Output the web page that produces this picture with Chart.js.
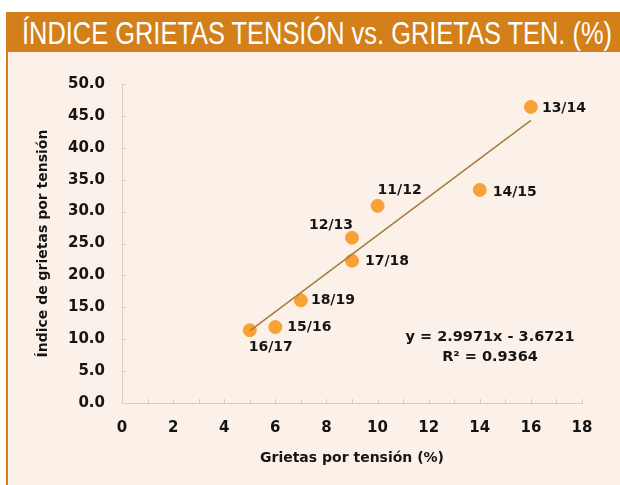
<!DOCTYPE html>
<html>
<head>
<meta charset="utf-8">
<script src="https://cdn.jsdelivr.net/npm/chart.js@4"></script>
<style>
  html, body { margin: 0; padding: 0; background: #fff; }
  #wrap { position: relative; width: 620px; height: 485px; overflow: hidden; background: #fff; }
  #titlebar {
    position: absolute; left: 6px; top: 12px; width: 614px; height: 40px;
    background: #d3801b; overflow: hidden;
  }
  #titletext {
    position: absolute; left: 16px; top: 0; color: #fff;
    font-family: "Liberation Sans", Arial, sans-serif;
    font-size: 32px; line-height: 42px; white-space: nowrap; transform-origin: 0 0;
  }
  #panel {
    position: absolute; left: 6px; top: 52px; width: 614px; height: 433px;
    background: #fbf1e8; border-left: 2px solid #d3801b; box-sizing: border-box;
  }
  #graph_chart { position: absolute; left: 8px; top: 52px; }
</style>
</head>
<body>
<div id="wrap">
  <div id="titlebar"><span id="titletext">ÍNDICE GRIETAS TENSIÓN vs. GRIETAS TEN. (%)</span></div>
  <div id="panel"></div>
  <canvas id="graph_chart" width="612" height="433"></canvas>
</div>
<script>
// temporadas y valores
const seasons = ['11/12', '12/13', '13/14', '14/15', '15/16', '16/17', '17/18', '18/19'];
const grietasPct = [10, 9, 16, 14, 6, 5, 9, 7];
const indice = [30.9, 25.9, 46.4, 33.4, 11.9, 11.4, 22.3, 16.1];

// recta de regresion lineal
const slope = 2.9971;
const intercept = -3.6721;
const eqLines = ['y = 2.9971x - 3.6721', 'R² = 0.9364'];

const xTicks = [0, 2, 4, 6, 8, 10, 12, 14, 16, 18];

const txt = '#141414';
const dot = '#f7a234';
const trendColor = '#a87d45';
const axisColor = '#d8d0c8';
const boldFont = {family: '"DejaVu Sans", sans-serif', weight: 'bold'};

// titulo estrechado para que quepa en la barra
const tt = document.getElementById('titletext');
tt.style.transform = `scaleX(${590 / tt.getBoundingClientRect().width})`;

// donde va cada etiqueta respecto a su punto: [dx, dy, align]
const labelPos = {
  '11/12': [0, -15, 'left'],
  '12/13': [1, -12, 'right'],
  '13/14': [11, 1, 'left'],
  '14/15': [13, 2, 'left'],
  '15/16': [12, 0, 'left'],
  '16/17': [-1, 17, 'left'],
  '17/18': [13, 1, 'left'],
  '18/19': [10, 0, 'left'],
};

const xMin = Math.min(...grietasPct);
const xMax = Math.max(...grietasPct);
const trend = [xMin, xMax].map(x => ({x: x, y: slope * x + intercept}));
const points = grietasPct.map((x, i) => ({x: x, y: indice[i], label: seasons[i]}));

const innerTicks = {
  id: 'innerTicks',
  afterDatasetsDraw(chart) {
    const {ctx, chartArea, scales} = chart;
    ctx.save();
    ctx.strokeStyle = axisColor;
    ctx.lineWidth = 1;
    ctx.beginPath();
    for (let v = 0; v <= 18; v++) {
      const px = Math.round(scales.x.getPixelForValue(v)) + 0.5;
      ctx.moveTo(px, chartArea.bottom);
      ctx.lineTo(px, chartArea.bottom - 4);
    }
    for (let v = 0; v <= 50; v += 5) {
      const py = Math.round(scales.y.getPixelForValue(v)) + 0.5;
      ctx.moveTo(chartArea.left, py);
      ctx.lineTo(chartArea.left + 4, py);
    }
    ctx.stroke();
    ctx.restore();
  }
};

const pointLabels = {
  id: 'pointLabels',
  afterDatasetsDraw(chart) {
    const {ctx, scales} = chart;
    ctx.save();
    ctx.fillStyle = txt;
    ctx.font = 'bold 14px "DejaVu Sans", sans-serif';
    ctx.textBaseline = 'middle';
    chart.getDatasetMeta(1).data.forEach((el, i) => {
      const p = labelPos[seasons[i]];
      ctx.textAlign = p[2];
      ctx.fillText(seasons[i], el.x + p[0], el.y + p[1]);
    });
    // ecuacion y R2
    ctx.textAlign = 'center';
    ctx.font = 'bold 14.5px "DejaVu Sans", sans-serif';
    const ex = scales.x.getPixelForValue(14.4);
    ctx.fillText(eqLines[0], ex, scales.y.getPixelForValue(10.3));
    ctx.fillText(eqLines[1], ex, scales.y.getPixelForValue(7.2));
    ctx.restore();
  }
};

new Chart(document.getElementById('graph_chart'), {
  type: 'scatter',
  data: {
    datasets: [
      {
        type: 'line',
        data: trend,
        borderColor: trendColor,
        borderWidth: 1.6,
        pointRadius: 0,
        fill: false,
      },
      {
        data: points,
        backgroundColor: dot,
        borderColor: dot,
        pointRadius: 6.5,
        pointHoverRadius: 6.5,
      }
    ]
  },
  options: {
    responsive: false,
    animation: false,
    events: [],
    layout: {padding: {top: 32, right: 38, left: 0, bottom: 0}},
    plugins: {legend: {display: false}, tooltip: {enabled: false}},
    scales: {
      x: {
        type: 'linear',
        min: 0,
        max: 18,
        afterBuildTicks: scale => { scale.ticks = xTicks.map(v => ({value: v})); },
        afterFit: scale => { scale.height = 82; },
        grid: {display: true, drawOnChartArea: false, drawTicks: false, color: axisColor},
        border: {color: axisColor, width: 1},
        ticks: {color: txt, font: {...boldFont, size: 15}, padding: 16, maxRotation: 0},
        title: {display: true, text: 'Grietas por tensión (%)', color: txt,
                font: {...boldFont, size: 14}, padding: {bottom: 18}},
      },
      y: {
        min: 0,
        max: 50,
        afterFit: scale => { scale.width = 114; },
        grid: {display: true, drawOnChartArea: false, drawTicks: false, color: axisColor},
        border: {color: axisColor, width: 1},
        ticks: {stepSize: 5, color: txt, font: {...boldFont, size: 15}, padding: 17,
                callback: v => v.toFixed(1)},
        title: {display: true, text: 'Índice de grietas por tensión', color: txt,
                font: {...boldFont, size: 14}, padding: {top: 27}},
      }
    }
  },
  plugins: [innerTicks, pointLabels]
});
</script>
</body>
</html>
